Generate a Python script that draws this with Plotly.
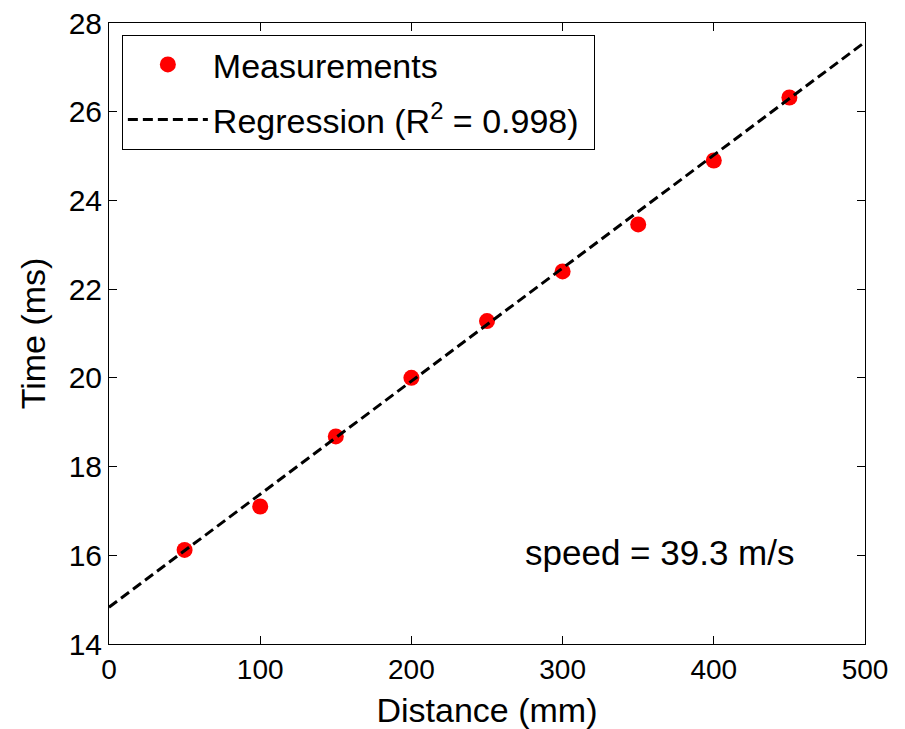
import plotly.graph_objects as go

distance = [50, 100, 150, 200, 250, 300, 350, 400, 450]
time_ms = [16.12, 17.10, 18.68, 20.00, 21.28, 22.40, 23.46, 24.90, 26.32]
reg_x = [0, 500]
reg_y = [14.83, 27.57]

FONT = "Liberation Sans, Arial"

fig = go.Figure()
fig.add_trace(go.Scatter(x=distance, y=time_ms, mode="markers", name="Measurements",
                         legendgroup="a",
                         marker=dict(color="red", size=16, line=dict(width=0))))
fig.add_trace(go.Scatter(x=reg_x, y=reg_y, mode="lines", name="Regression (R<sup>2</sup> = 0.998) ",
                         legendgroup="b",
                         line=dict(color="black", width=3, dash="10px,5px")))

axis_common = dict(showline=True, linecolor="black", linewidth=1, mirror="ticks",
                   ticks="inside", ticklen=8, tickcolor="black", showgrid=False, zeroline=False,
                   automargin=False)
fig.update_xaxes(range=[0, 500], dtick=100,
                 tickfont=dict(family=FONT, size=28, color="black"),
                 title=dict(text="Distance (mm)", standoff=16,
                            font=dict(family=FONT, size=34, color="black")), **axis_common)
fig.update_yaxes(range=[14, 28], dtick=2,
                 tickfont=dict(family=FONT, size=30, color="black"),
                 title=dict(text="Time (ms)", standoff=12,
                            font=dict(family=FONT, size=34, color="black")), **axis_common)

fig.add_annotation(x=0.909, y=0.148, xref="paper", yref="paper", xanchor="right", yanchor="middle",
                   text="speed = 39.3 m/s", showarrow=False,
                   font=dict(family=FONT, size=35, color="black"))

fig.update_layout(width=905, height=729, margin=dict(l=109, r=40, t=23, b=85),
                  plot_bgcolor="white", paper_bgcolor="white",
                  legend=dict(x=0.017, y=0.981, xanchor="left", yanchor="top",
                              bgcolor="white", bordercolor="black", borderwidth=1,
                              font=dict(family=FONT, size=34, color="black"),
                              itemwidth=80, tracegroupgap=8))
fig.write_html("out.html")
